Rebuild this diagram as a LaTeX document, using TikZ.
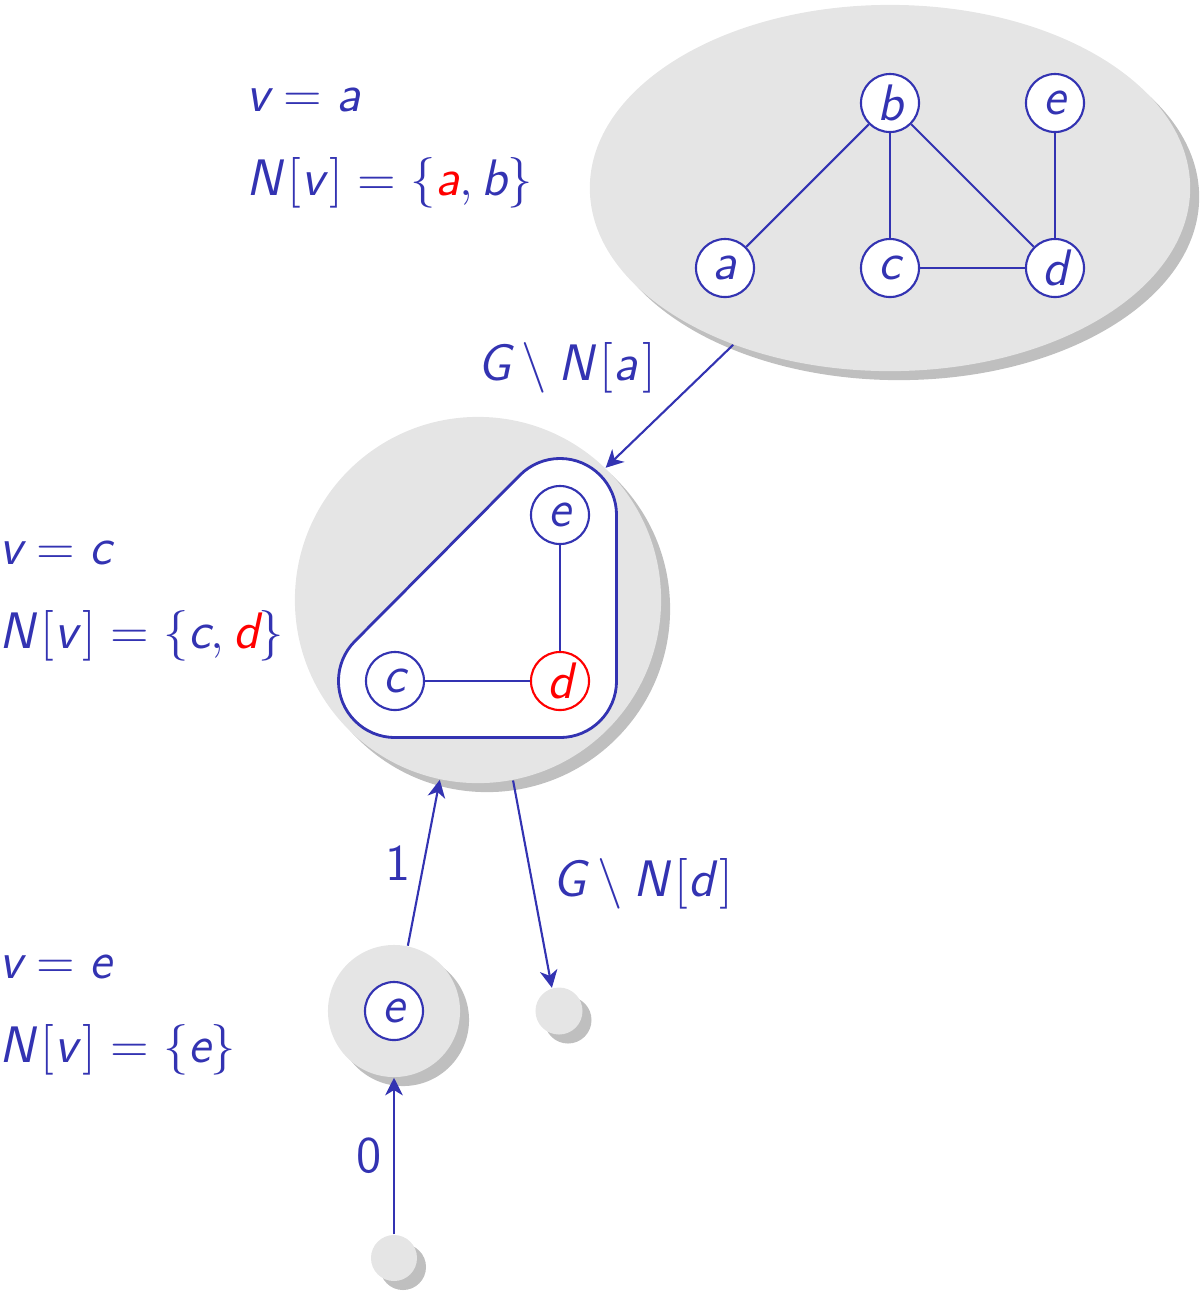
\documentclass[tikz,border=0pt]{standalone}
\usetikzlibrary{arrows.meta,shapes,shadows,calc}
\renewcommand{\familydefault}{\sfdefault}
% sans serif math, as in slides
\DeclareSymbolFont{sfletters}{TU}{lmss}{m}{sl}
\DeclareSymbolFont{sfdigits}{TU}{lmss}{m}{n}
\DeclareMathSymbol{a}{\mathalpha}{sfletters}{`a}
\DeclareMathSymbol{b}{\mathalpha}{sfletters}{`b}
\DeclareMathSymbol{c}{\mathalpha}{sfletters}{`c}
\DeclareMathSymbol{d}{\mathalpha}{sfletters}{`d}
\DeclareMathSymbol{e}{\mathalpha}{sfletters}{`e}
\DeclareMathSymbol{v}{\mathalpha}{sfletters}{`v}
\DeclareMathSymbol{G}{\mathalpha}{sfletters}{`G}
\DeclareMathSymbol{N}{\mathalpha}{sfletters}{`N}
\DeclareMathSymbol{0}{\mathalpha}{sfdigits}{`0}
\DeclareMathSymbol{1}{\mathalpha}{sfdigits}{`1}
\newcommand{\ic}{\mkern2mu}
\definecolor{structblue}{RGB}{51,51,178}
\tikzset{
  vtx/.style={circle, draw=structblue, semithick, fill=white, minimum size=0.58cm, inner sep=0pt, text=structblue},
  blob/.style={circle, fill=gray!20, drop shadow={shadow xshift=0.09cm, shadow yshift=-0.09cm, opacity=1, fill=gray!50}},
  edge/.style={structblue, semithick},
  link/.style={structblue, semithick, -{Stealth[length=5pt, width=5pt, inset=1.5pt]}},
  lbl/.style={text=structblue, anchor=west}
}
\newcommand{\hullr}{0.565cm}

\begin{document}
\begin{tikzpicture}[x=0.01cm, y=-0.01cm, every node/.append style={font=\fontsize{14.6}{17}\selectfont}]
\useasboundingbox (0,0) rectangle (1199,1293);

% Whole graph
\node[blob, ellipse, minimum width=6cm, minimum height=3.66cm] (whole) at (890,188) {};
\node[vtx] (a1) at (725,268) {$a$};
\node[vtx] (b1) at (890,103) {$b$};
\node[vtx] (c1) at (890,268) {$c$};
\node[vtx] (d1) at (1055,268) {$d$};
\node[vtx] (e1) at (1055,103) {$e$};
\draw[edge] (a1) -- (b1);
\draw[edge] (b1) -- (c1);
\draw[edge] (b1) -- (d1);
\draw[edge] (c1) -- (d1);
\draw[edge] (e1) -- (d1);

\node[lbl] (va) at (234,100) {$v = a$};
\node[lbl] (na) at (234,183) {$N\ic[v\ic] = \{{\color{red}a}, b\}$};

% After removing N[a]
\node[blob, minimum size=3.66cm] (mid) at (478,600) {};
\coordinate (c2) at (395,681);
\coordinate (d2) at (560,681);
\coordinate (e2) at (560,515);
\draw[structblue, thick, fill=white]
  ($(c2)+(-90:\hullr)$) -- ($(d2)+(-90:\hullr)$)
  arc[start angle=-90, end angle=0, radius=\hullr]
  -- ($(e2)+(0:\hullr)$)
  arc[start angle=0, end angle=135, radius=\hullr]
  -- ($(c2)+(135:\hullr)$)
  arc[start angle=135, end angle=270, radius=\hullr] -- cycle;
\node[vtx] (c) at (c2) {$c$};
\node[vtx, draw=red, text=red] (d) at (d2) {$d$};
\node[vtx] (e) at (e2) {$e$};
\draw[edge] (c) -- (d);
\draw[edge] (e) -- (d);

\node[lbl] (vc) at (-13,553) {$v = c$};
\node[lbl] (nc) at (-13,636) {$N\ic[v\ic] = \{c, {\color{red}d}\}$};

\draw[link] (whole.225) -- node[midway, above left, text=structblue] {$G \setminus N\ic[a\ic]$} (mid.46);

% Branches below
\node[blob, minimum size=1.32cm] (ebox) at (394,1011) {};
\node[vtx] (e3) at (394,1011) {$e$};
\node[blob, minimum size=0.47cm] (leafd) at (559,1011) {};
\node[blob, minimum size=0.46cm] (leafe) at (394,1258) {};

\node[lbl] (ve) at (-13,967) {$v = e$};
\node[lbl] (ne) at (-13,1050) {$N\ic[v\ic] = \{e\}$};

\draw[link] (ebox.78) -- node[midway, left, text=structblue] {$1$} (mid.258);
\draw[link] (mid.281) -- node[midway, right, xshift=2pt, text=structblue] {$G \setminus N\ic[d\ic]$} (leafd.107);
\draw[link] (leafe.90) -- node[midway, left, text=structblue] {$0$} (ebox.270);
\end{tikzpicture}
\end{document}
